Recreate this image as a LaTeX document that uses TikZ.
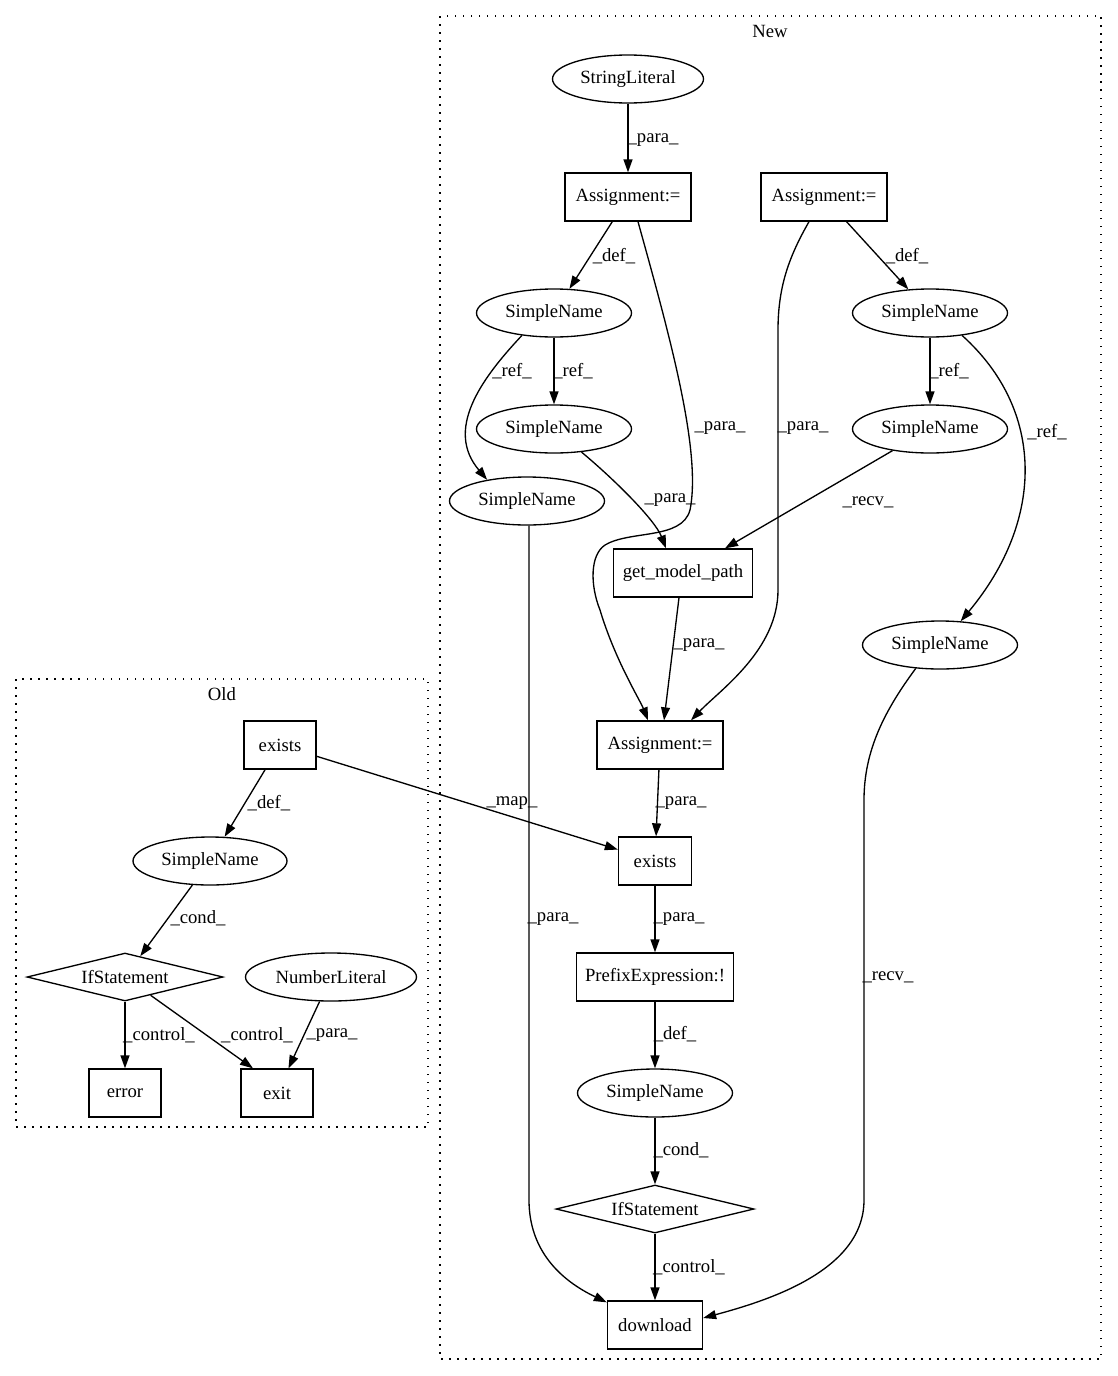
\documentclass[tikz,border=0pt]{standalone}
\usepackage{fontspec}
\setmainfont{Liberation Serif}
\usetikzlibrary{positioning,arrows.meta,shapes.geometric}

\begin{document}
\begin{tikzpicture}[x=1pt,y=-1pt,
      every node/.style={font=\fontsize{18.67}{22}\selectfont},
      box/.style={draw,rectangle,line width=1.33pt,minimum height=48pt,inner sep=0pt},
      ell/.style={draw,ellipse,line width=1.33pt,minimum width=155pt,minimum height=48pt,inner sep=0pt},
      cond/.style={draw,diamond,aspect=4,line width=1.33pt,minimum width=198pt,minimum height=48pt,inner sep=0pt},
      lbl/.style={inner sep=0pt},
      arr/.style={-{Triangle[length=13pt,width=9pt]},line width=1.33pt},
      cluster/.style={dash pattern=on 1.5pt off 6.5pt,line width=1.33pt}]
    \useasboundingbox (0,0) rectangle (1117,1376);
    % clusters
    \draw[cluster] (440,16) rectangle (1101,1359);
    \node (newlbl) at (770,31) {New};
    \draw[cluster] (16,679) rectangle (428,1127);
    \node (oldlbl) at (222,694) {Old};
    % new version
    \node[ell,minimum width=151pt] (strlit) at (628,79) {StringLiteral};
    \node[box,minimum width=126pt] (as1) at (628,197) {Assignment:=};
    \node[box,minimum width=126pt] (as2) at (824,197) {Assignment:=};
    \node[ell] (sn1) at (554,313) {SimpleName};
    \node[ell] (sn2) at (930,313) {SimpleName};
    \node[ell] (sn3) at (554,429) {SimpleName};
    \node[ell] (sn4) at (930,429) {SimpleName};
    \node[ell] (sn5) at (527,501) {SimpleName};
    \node[box,minimum width=139pt] (gmp) at (683,573) {get\_model\_path};
    \node[ell] (sn6) at (940,645) {SimpleName};
    \node[box,minimum width=126pt] (as3) at (660,745) {Assignment:=};
    \node[box,minimum width=73pt] (ex) at (655,861) {exists};
    \node[box,minimum width=157pt] (prefix) at (655,977) {PrefixExpression:!};
    \node[ell] (sn7) at (655,1093) {SimpleName};
    \node[cond] (ifst) at (655,1209) {IfStatement};
    \node[box,minimum width=95pt] (dl) at (655,1325) {download};
    % old version
    \node[box,minimum width=72pt] (oex) at (280,745) {exists};
    \node[ell,minimum width=154pt] (osn) at (210,861) {SimpleName};
    \node[cond,minimum width=196pt] (oif) at (125,977) {IfStatement};
    \node[ell,minimum width=171pt] (numlit) at (331,977) {NumberLiteral};
    \node[box,minimum width=72pt] (err) at (125,1093) {error};
    \node[box,minimum width=72pt] (exit) at (277,1093) {exit};
    % edges, new
    \draw[arr] (strlit) -- (as1);
    \draw[arr] (as1) -- (sn1);
    \draw[arr] ([xshift=10pt]as1.south) .. controls (668,330) and (702,450) .. (690,510)
      .. controls (682,540) and (630,530) .. (605,545)
      .. controls (590,555) and (590,585) .. (600,610)
      .. controls (615,660) and (640,700) .. ([xshift=-12pt]as3.north);
    \draw[arr] ([xshift=-15pt]as2.south) .. controls (790,255) and (778,285) .. (778,330)
      -- (778,590) .. controls (778,650) and (720,690) .. ([xshift=31pt]as3.north);
    \draw[arr] (as2) -- (sn2);
    \draw[arr] (sn1) -- (sn3);
    \draw[arr] (sn1.215) .. controls (480,380) and (445,430) .. (sn5.152);
    \draw[arr] (sn2) -- (sn4);
    \draw[arr] (sn2.-35) .. controls (1045,410) and (1045,520) .. (sn6.49);
    \draw[arr] (sn3.-40) .. controls (615,480) and (655,520) .. ([xshift=-17pt]gmp.north);
    \draw[arr] (sn4.210) -- ([xshift=42pt]gmp.north);
    \draw[arr] ([xshift=-4pt]gmp.south) -- ([xshift=4pt]as3.north);
    \draw[arr] (as3) -- (ex);
    \draw[arr] (ex) -- (prefix);
    \draw[arr] (prefix) -- (sn7);
    \draw[arr] (sn7) -- (ifst);
    \draw[arr] (ifst) -- (dl);
    \draw[arr] ([xshift=2pt]sn5.south) -- (529,1200) .. controls (529,1250) and (560,1280) .. ([yshift=-2pt]dl.north west);
    \draw[arr] (sn6.224) .. controls (885,710) and (864,750) .. (864,800)
      -- (864,1200) .. controls (864,1270) and (770,1300) .. ([yshift=7pt]dl.east);
    % edges, old
    \draw[arr] (oex) -- (ex);
    \draw[arr] (oex) -- (osn);
    \draw[arr] (osn) -- (oif);
    \draw[arr] (oif) -- (err);
    \draw[arr] (oif) -- ([xshift=-24pt]exit.north);
    \draw[arr] (numlit) -- (exit);
    % edge labels
    \node[lbl] (l1) at (653,140) {\_para\_};
    \node[lbl] (l2) at (614,256) {\_def\_};
    \node[lbl] (l3) at (907,256) {\_def\_};
    \node[lbl] (l4) at (573,371) {\_ref\_};
    \node[lbl] (l5) at (512,371) {\_ref\_};
    \node[lbl] (l6) at (949,371) {\_ref\_};
    \node[lbl] (l7) at (1047,432) {\_ref\_};
    \node[lbl] (l8) at (720,428) {\_para\_};
    \node[lbl] (l9) at (803,428) {\_para\_};
    \node[lbl] (l10) at (670,500) {\_para\_};
    \node[lbl] (l11) at (868,502) {\_recv\_};
    \node[lbl] (l12) at (699,645) {\_para\_};
    \node[lbl] (l13) at (681,803) {\_para\_};
    \node[lbl] (l14) at (512,803) {\_map\_};
    \node[lbl] (l15) at (553,919) {\_para\_};
    \node[lbl] (l16) at (679,919) {\_para\_};
    \node[lbl] (l17) at (888,977) {\_recv\_};
    \node[lbl] (l18) at (675,1034) {\_def\_};
    \node[lbl] (l19) at (681,1150) {\_cond\_};
    \node[lbl] (l20) at (689,1267) {\_control\_};
    \node[lbl] (l21) at (269,803) {\_def\_};
    \node[lbl] (l22) at (198,918) {\_cond\_};
    \node[lbl] (l23) at (159,1035) {\_control\_};
    \node[lbl] (l24) at (257,1035) {\_control\_};
    \node[lbl] (l25) at (332,1035) {\_para\_};
  \end{tikzpicture}
\end{document}
